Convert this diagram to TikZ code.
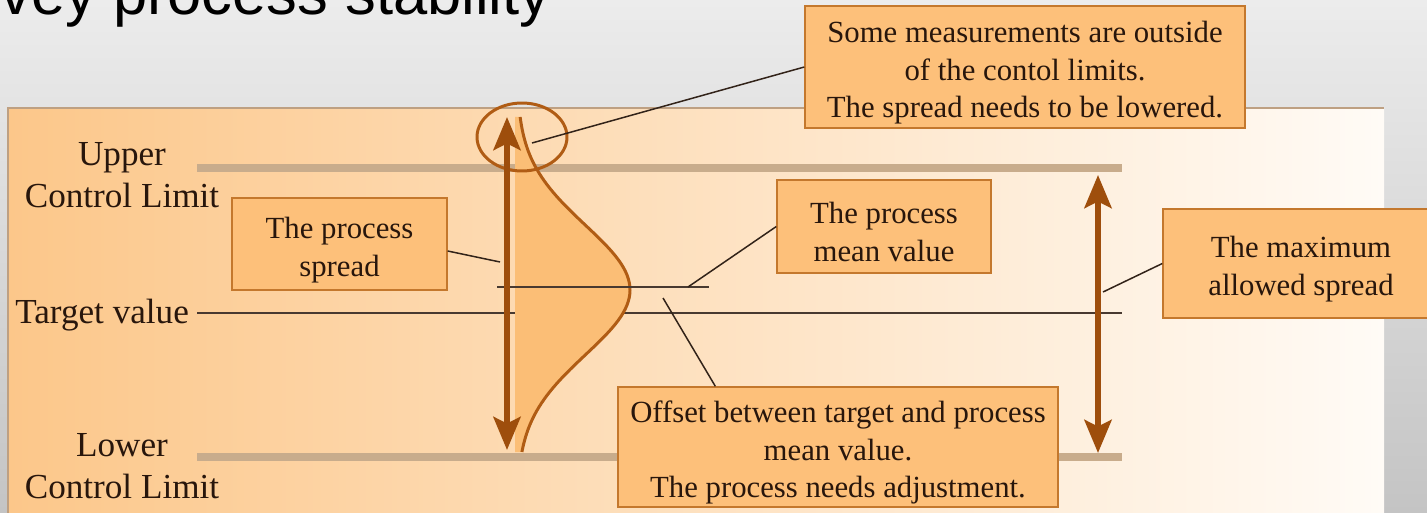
\documentclass[tikz,border=0pt]{standalone}
\usepackage{fontspec}
\setmainfont{Liberation Serif}
\newfontfamily\headfont{Liberation Sans}
\usetikzlibrary{arrows.meta,positioning,calc}
\definecolor{bgtop}{RGB}{236,236,236}
\definecolor{bgbot}{RGB}{196,196,196}
\definecolor{panelL}{RGB}{252,199,138}
\definecolor{panelR}{RGB}{255,251,246}
\definecolor{panelrim}{RGB}{190,160,130}
\definecolor{boxfill}{RGB}{253,192,122}
\definecolor{boxline}{RGB}{196,120,45}
\definecolor{ink}{RGB}{40,22,12}
\definecolor{limgray}{RGB}{200,172,140}
\definecolor{arrowc}{RGB}{158,78,12}
\definecolor{curvec}{RGB}{176,92,20}
\definecolor{bellfill}{RGB}{251,190,118}
\definecolor{leadc}{RGB}{50,35,25}
\newcommand{\boxtext}{\fontsize{17.5}{21.5}\selectfont}
\newcommand{\limfont}{\fontsize{20}{24}\selectfont}
\newcommand{\capgap}{\rule{0pt}{1.07em}}
\tikzset{
  callout/.style={draw=boxline,fill=boxfill,line width=0.8pt,align=center,font=\boxtext,
    text=ink,inner sep=0pt},
  limtext/.style={align=center,font=\limfont,text=ink,inner sep=0pt},
  limit/.style={line width=4pt,draw=limgray},
  target/.style={line width=1.1pt,draw=ink!85},
  leader/.style={line width=0.85pt,draw=leadc},
  spread/.style={{Stealth[length=6.6mm,width=5.4mm,inset=1.3mm]}-{Stealth[length=6.6mm,width=5.4mm,inset=1.3mm]},
    line width=3.4pt,draw=arrowc,fill=arrowc},
  bell/.style={line width=1.7pt,draw=curvec},
}

\begin{document}
\begin{tikzpicture}[x=0.02cm,y=-0.02cm]
\useasboundingbox (0,0) rectangle (1427,513);
\clip (0,0) rectangle (1427,513);
% slide and panel
\fill[top color=bgtop,bottom color=bgbot] (0,0) rectangle (1427,513);
\node[font=\headfont\fontsize{35}{40}\selectfont,anchor=base west,inner sep=0pt] (title) at (0,15)
  {vey process stability};
\fill[left color=panelL,right color=panelR] (8,108) rectangle (1384,520);
\draw[panelrim,line width=1pt] (8,520) -- (8,108) -- (1384,108);

% limits and target
\coordinate (ucl-a) at (197,168); \coordinate (ucl-b) at (1122,168);
\coordinate (lcl-a) at (197,457); \coordinate (lcl-b) at (1122,457);
\coordinate (tgt-a) at (197,313); \coordinate (tgt-b) at (1122,313);
\draw[limit] (ucl-a) -- (ucl-b);
\draw[limit] (lcl-a) -- (lcl-b);
\draw[target] (tgt-a) -- (tgt-b);
\node[limtext] (ucl) at (122,175) {Upper\\Control Limit};
\node[limtext] (lcl) at (122,466) {Lower\\Control Limit};
\node[limtext,anchor=base west] (tgt) at (15,323) {Target value};

% distribution
\fill[bellfill] (515,117) -- plot[domain=117:452,samples=90]
  ({517+113*exp(-(((\x-290)/91.5)^2))},\x) -- (515,452) -- cycle;
\draw[bell] plot[domain=117:452,samples=90] ({517+113*exp(-(((\x-290)/91.5)^2))},\x);
\draw[bell] (522,137) ellipse [x radius=0.9cm,y radius=0.68cm];
\coordinate (mean-a) at (497,287); \coordinate (mean-b) at (709,287);
\draw[target] (mean-a) -- (mean-b);

% spreads
\coordinate (sp-top) at (507,117); \coordinate (sp-bot) at (507,450);
\coordinate (max-top) at (1098,175); \coordinate (max-bot) at (1098,453);
\draw[spread] (sp-bot) -- (sp-top);
\draw[spread] (max-bot) -- (max-top);

% callouts
\node[callout,minimum width=8.8cm,minimum height=2.44cm] (outbox) at (1025,67)
  {\capgap Some measurements are outside\\of the contol limits.\\The spread needs to be lowered.};
\node[callout,minimum width=4.3cm,minimum height=1.84cm] (spreadbox) at (339.5,244)
  {\capgap The process\\spread};
\node[callout,minimum width=4.28cm,minimum height=1.86cm] (meanbox) at (884,226.5)
  {\capgap The process\\mean value};
\node[callout,minimum width=5.52cm,minimum height=2.18cm] (maxbox) at (1301,263.5)
  {\capgap The maximum\\allowed spread};
\node[callout,minimum width=8.8cm,minimum height=2.4cm] (offbox) at (838,447)
  {\capgap Offset between target and process\\mean value.\\The process needs adjustment.};

% leaders
\coordinate (out-pt) at (532,143);
\coordinate (spread-pt) at (500,262);
\coordinate (mean-pt) at (688,287);
\coordinate (off-pt) at (663,298);
\coordinate (max-pt) at (1103,292);
\draw[leader] (outbox.west) -- (out-pt);
\draw[leader] ($(spreadbox.east)+(0,7)$) -- (spread-pt);
\draw[leader] (meanbox.west) -- (mean-pt);
\draw[leader] ($(offbox.north west)+(98,0)$) -- (off-pt);
\draw[leader] (maxbox.west) -- (max-pt);
\end{tikzpicture}
\end{document}
